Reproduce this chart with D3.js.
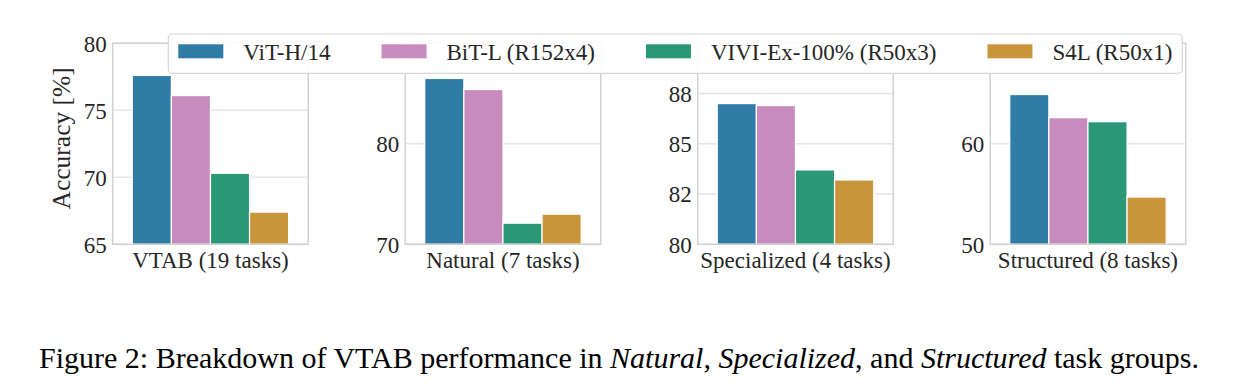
<!DOCTYPE html>
<html>
<head>
<meta charset="utf-8">
<script src="https://cdn.jsdelivr.net/npm/d3@7"></script>
<style>
  body { margin: 0; background: #fff; }
  svg { font-family: "Liberation Serif", "DejaVu Serif", serif; }
</style>
</head>
<body>
<svg id="chart"></svg>
<script>
const models = ["ViT-H/14", "BiT-L (R152x4)", "VIVI-Ex-100% (R50x3)", "S4L (R50x1)"];
const colors = ["#2f7ca6", "#c78cbd", "#2a9877", "#c9943a"];

const groups = ["VTAB (19 tasks)", "Natural (7 tasks)", "Specialized (4 tasks)", "Structured (8 tasks)"];

// accuracy per group, in model order
const vtabValues        = [77.6, 76.1, 70.3, 67.4];
const naturalValues     = [86.5, 85.4, 72.1, 73.0];
const specializedValues = [87.0, 86.9, 83.7, 83.2];
const structuredValues  = [64.9, 62.6, 62.2, 54.7];

const yDomains = [[65, 80], [70, 90], [80, 90], [50, 70]];
const tickValues = [[65, 70, 75, 80], [70, 80], [80, 82.5, 85, 87.5], [50, 60]];
const tickLabels = [["65", "70", "75", "80"], ["70", "80"], ["80", "82", "85", "88"], ["50", "60"]];

const allValues = [vtabValues, naturalValues, specializedValues, structuredValues];

const width = 1260;
const height = 389;

const panelLeft = 112.7;
const panelStep = 292.5;
const panelW = 195.5;
const plotTop = 43.3;
const plotBottom = 244.3;
const fontSize = 23;

const svg = d3.select("#chart")
    .attr("width", width)
    .attr("height", height);

groups.forEach((g, gi) => {
    const x0 = panelLeft + gi * panelStep;
    const panel = svg.append("g").attr("transform", `translate(${x0},0)`);

    const y = d3.scaleLinear().domain(yDomains[gi]).range([plotBottom, plotTop]);
    const x = d3.scaleBand()
        .domain(models)
        .range([panelW * 0.1, panelW * 0.9])
        .padding(0);

    // grid
    panel.selectAll(".grid")
        .data(tickValues[gi])
        .enter()
        .append("line")
        .attr("x1", 0)
        .attr("x2", panelW)
        .attr("y1", d => y(d))
        .attr("y2", d => y(d))
        .attr("stroke", "#e6e6e6")
        .attr("stroke-width", 1.5);

    // bars
    panel.selectAll(".bar")
        .data(allValues[gi])
        .enter()
        .append("rect")
        .attr("x", (d, i) => x(models[i]))
        .attr("width", x.bandwidth())
        .attr("y", d => y(d))
        .attr("height", d => plotBottom - y(d))
        .attr("fill", (d, i) => colors[i])
        .attr("stroke", "white")
        .attr("stroke-width", 1.2);

    // spines
    panel.append("rect")
        .attr("x", 0)
        .attr("y", plotTop)
        .attr("width", panelW)
        .attr("height", plotBottom - plotTop)
        .attr("fill", "none")
        .attr("stroke", "#d2d2d2")
        .attr("stroke-width", 1.5);

    // tick labels
    panel.selectAll(".tick")
        .data(tickValues[gi])
        .enter()
        .append("text")
        .attr("x", -6)
        .attr("y", d => y(d))
        .attr("dy", "0.36em")
        .attr("text-anchor", "end")
        .attr("font-size", fontSize)
        .attr("fill", "#262626")
        .text((d, i) => tickLabels[gi][i]);

    panel.append("text")
        .attr("x", panelW / 2)
        .attr("y", 268)
        .attr("text-anchor", "middle")
        .attr("font-size", fontSize)
        .attr("fill", "#262626")
        .text(g);
});

svg.append("text")
    .attr("transform", "translate(70,138.3) rotate(-90)")
    .attr("text-anchor", "middle")
    .attr("font-size", 25.5)
    .attr("fill", "#262626")
    .text("Accuracy [%]");

// legend
const legend = svg.append("g");
const legendBox = legend.append("rect")
    .attr("x", 168.3)
    .attr("y", 34)
    .attr("height", 39.3)
    .attr("rx", 4)
    .attr("fill", "white")
    .attr("fill-opacity", 0.9)
    .attr("stroke", "#d6d6d6")
    .attr("stroke-width", 1.2);

let lx = 178.3;
models.forEach((m, i) => {
    legend.append("rect")
        .attr("x", lx)
        .attr("y", 44.3)
        .attr("width", 45)
        .attr("height", 14)
        .attr("fill", colors[i]);
    const t = legend.append("text")
        .attr("x", lx + 65)
        .attr("y", 51.3)
        .attr("dy", "0.36em")
        .attr("font-size", fontSize)
        .attr("fill", "#262626")
        .text(m);
    lx += 65 + t.node().getComputedTextLength() + 51;
});
legendBox.attr("width", lx - 51 + 10 - 168.3);

// caption
const caption = svg.append("text")
    .attr("x", 619)
    .attr("y", 368)
    .attr("text-anchor", "middle")
    .attr("font-size", 30)
    .attr("fill", "#000");
caption.append("tspan").text("Figure 2: Breakdown of VTAB performance in ");
caption.append("tspan").attr("font-style", "italic").text("Natural");
caption.append("tspan").text(", ");
caption.append("tspan").attr("font-style", "italic").text("Specialized");
caption.append("tspan").text(", and ");
caption.append("tspan").attr("font-style", "italic").text("Structured");
caption.append("tspan").text(" task groups.");
</script>
</body>
</html>
